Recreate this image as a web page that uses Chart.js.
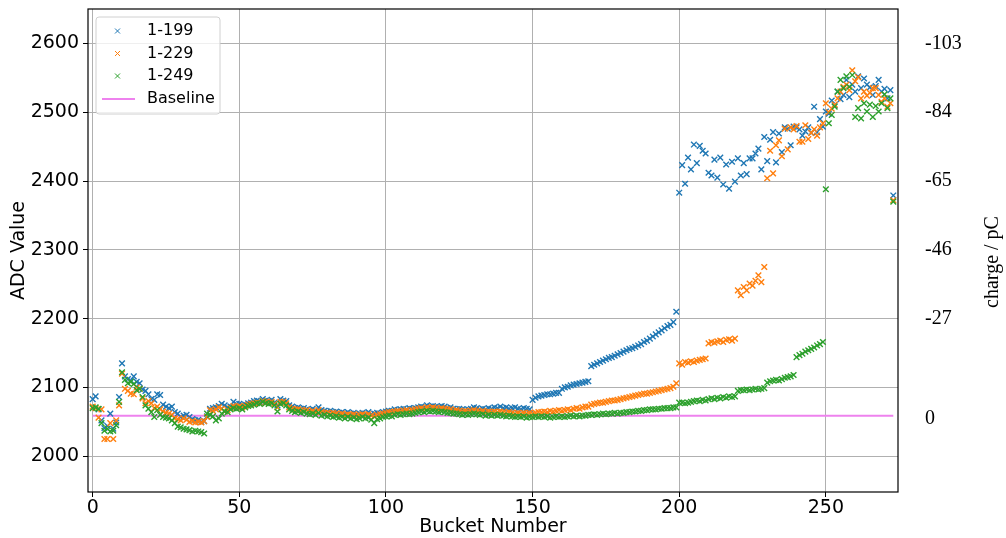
<!DOCTYPE html>
<html>
<head>
<meta charset="utf-8">
<script src="https://cdn.jsdelivr.net/npm/chart.js@4.4.0/dist/chart.umd.min.js"></script>
<style>
    body { margin: 0; background: #fff; }
    #wrap { width: 1006px; height: 538px; }
</style>
</head>
<body>
<div id="wrap"><canvas id="g_adc" width="1006" height="538"></canvas></div>
<script>
// ADC value per bucket, the bucket number is the index
const adc199 = [
    2083, 2087, 2068, 2052, 2041, 2044, 2062, 2040, 2049, 2086,
    2135, 2116, 2112, 2110, 2116, 2108, 2106, 2097, 2095, 2090,
    2083, 2082, 2090, 2089, 2075, 2072, 2070, 2072, 2064, 2062,
    2057, 2059, 2060, 2057, 2054, 2052, 2053, 2050, 2051, 2058,
    2069, 2070, 2071, 2073, 2076, 2074, 2071, 2072, 2079, 2076,
    2076, 2074, 2075, 2077, 2078, 2080, 2081, 2079, 2083, 2081,
    2080, 2082, 2078, 2074, 2083, 2081, 2080, 2074, 2072, 2070,
    2071, 2069, 2070, 2068, 2067, 2069, 2066, 2071, 2067, 2066,
    2065, 2066, 2064, 2065, 2063, 2064, 2062, 2064, 2062, 2063,
    2061, 2062, 2063, 2062, 2064, 2061, 2062, 2063, 2062, 2064,
    2065, 2066, 2066, 2068, 2067, 2068, 2069, 2068, 2070, 2069,
    2070, 2071, 2072, 2071, 2074, 2072, 2073, 2072, 2071, 2073,
    2072, 2070, 2071, 2069, 2068, 2069, 2068, 2067, 2068, 2069,
    2071, 2070, 2068, 2069, 2068, 2070, 2069, 2071, 2070, 2072,
    2070, 2071, 2069, 2070, 2071, 2069, 2068, 2070, 2069, 2068,
    2082, 2085, 2087, 2088, 2089, 2090, 2090, 2091, 2092, 2092,
    2098, 2100, 2101, 2103, 2104, 2105, 2106, 2107, 2108, 2109,
    2131, 2133, 2135, 2137, 2139, 2141, 2143, 2144, 2146, 2148,
    2150, 2152, 2154, 2156, 2157, 2159, 2161, 2163, 2166, 2168,
    2171, 2174, 2177, 2180, 2183, 2186, 2189, 2191, 2195, 2210,
    2383, 2423, 2396, 2434, 2417, 2453, 2426, 2451, 2444, 2440,
    2412, 2408, 2431, 2405, 2434, 2395, 2424, 2389, 2428, 2399,
    2433, 2408, 2426, 2410, 2433, 2433, 2440, 2447, 2417, 2464,
    2429, 2460, 2471, 2427, 2469, 2442, 2478, 2476, 2452, 2479,
    2478, 2475, 2466, 2472, 2478, 2470, 2508, 2471, 2490, 2479,
    2501, 2498, 2517, 2510, 2530, 2519, 2525, 2547, 2522, 2540,
    2530, 2552, 2535, 2549, 2540, 2536, 2525, 2538, 2547, 2530,
    2534, 2520, 2532, 2379
];

const adc229 = [
    2072, 2070, 2056, 2068, 2025, 2025, 2048, 2025, 2052, 2074,
    2120, 2098, 2095, 2091, 2090, 2100, 2098, 2084, 2077, 2080,
    2077, 2070, 2072, 2068, 2065, 2063, 2062, 2060, 2055, 2054,
    2052, 2055, 2053, 2050, 2051, 2049, 2050, 2049, 2051, 2057,
    2067, 2066, 2068, 2071, 2069, 2065, 2067, 2070, 2073, 2072,
    2073, 2071, 2073, 2075, 2076, 2077, 2078, 2077, 2080, 2079,
    2078, 2079, 2076, 2071, 2079, 2079, 2077, 2071, 2069, 2068,
    2068, 2067, 2066, 2067, 2065, 2066, 2064, 2067, 2064, 2063,
    2063, 2062, 2063, 2062, 2061, 2062, 2060, 2061, 2060, 2061,
    2059, 2060, 2061, 2060, 2061, 2059, 2058, 2060, 2061, 2062,
    2063, 2064, 2064, 2065, 2066, 2065, 2066, 2067, 2066, 2067,
    2068, 2069, 2070, 2069, 2071, 2070, 2071, 2070, 2069, 2070,
    2069, 2068, 2068, 2066, 2067, 2066, 2065, 2066, 2065, 2066,
    2067, 2066, 2065, 2066, 2064, 2065, 2064, 2065, 2064, 2065,
    2064, 2063, 2064, 2063, 2062, 2063, 2062, 2063, 2062, 2063,
    2062, 2063, 2064, 2064, 2065, 2064, 2066, 2065, 2066, 2067,
    2066, 2067, 2068, 2067, 2069, 2070, 2069, 2071, 2072, 2072,
    2075, 2076, 2077, 2078, 2078, 2079, 2080, 2081, 2081, 2082,
    2083, 2084, 2085, 2086, 2087, 2088, 2089, 2090, 2091, 2091,
    2092, 2093, 2094, 2095, 2096, 2097, 2098, 2099, 2101, 2106,
    2135, 2133, 2137, 2136, 2138, 2137, 2139, 2140, 2141, 2142,
    2164, 2166, 2165, 2167, 2168, 2166, 2169, 2170, 2168, 2171,
    2241, 2234, 2246, 2241, 2251, 2248, 2255, 2263, 2253, 2275,
    2404, 2444, 2411, 2452, 2459, 2436, 2476, 2446, 2478, 2475,
    2480, 2457, 2457, 2481, 2461, 2470, 2475, 2466, 2478, 2484,
    2513, 2500, 2505, 2511, 2520, 2530, 2537, 2540, 2532, 2561,
    2545, 2551, 2520, 2530, 2524, 2528, 2535, 2535, 2525, 2515,
    2520, 2508, 2513, 2372
];

const adc249 = [
    2070, 2071, 2069, 2048, 2037, 2040, 2036, 2037, 2045, 2079,
    2122, 2111, 2106, 2108, 2105, 2096, 2098, 2086, 2074, 2069,
    2064, 2057, 2067, 2060, 2057, 2056, 2055, 2052, 2048, 2043,
    2042, 2040, 2039, 2038, 2036, 2037, 2036, 2035, 2033, 2062,
    2060, 2058, 2052, 2055, 2062, 2065, 2064, 2068, 2070, 2069,
    2070, 2068, 2071, 2073, 2074, 2075, 2077, 2076, 2079, 2077,
    2076, 2077, 2074, 2065, 2076, 2077, 2074, 2068, 2066, 2064,
    2065, 2063, 2064, 2062, 2061, 2062, 2060, 2063, 2059, 2060,
    2058, 2059, 2057, 2058, 2056, 2057, 2055, 2057, 2055, 2056,
    2054, 2055, 2057, 2055, 2056, 2053, 2048, 2054, 2055, 2057,
    2058, 2059, 2058, 2060, 2061, 2060, 2061, 2062, 2061, 2062,
    2063, 2064, 2065, 2064, 2066, 2065, 2066, 2065, 2064, 2065,
    2064, 2063, 2063, 2062, 2062, 2061, 2060, 2061, 2060, 2061,
    2062, 2061, 2060, 2061, 2059, 2060, 2059, 2060, 2059, 2060,
    2059, 2058, 2059, 2058, 2057, 2058, 2057, 2058, 2056, 2057,
    2057, 2058, 2057, 2058, 2057, 2058, 2056, 2057, 2058, 2057,
    2058, 2057, 2058, 2059, 2058, 2059, 2058, 2059, 2059, 2060,
    2060, 2061, 2060, 2061, 2062, 2061, 2062, 2062, 2063, 2062,
    2063, 2063, 2064, 2064, 2065, 2065, 2066, 2066, 2067, 2067,
    2068, 2068, 2068, 2069, 2069, 2070, 2070, 2070, 2071, 2071,
    2078, 2078, 2077, 2078, 2079, 2080, 2081, 2080, 2082, 2081,
    2083, 2084, 2083, 2085, 2084, 2086, 2085, 2087, 2086, 2087,
    2095, 2096, 2096, 2097, 2096, 2097, 2098, 2097, 2098, 2099,
    2107, 2109, 2110, 2111, 2110, 2112, 2114, 2115, 2116, 2118,
    2144, 2147, 2149, 2152, 2154, 2156, 2158, 2161, 2163, 2166,
    2388, 2484, 2496, 2508, 2530, 2547, 2535, 2552, 2537, 2554,
    2493, 2506, 2491, 2513, 2501, 2511, 2493, 2509, 2501, 2513,
    2526, 2506, 2520, 2370
];

const baselineLevel = 2059;
const baselineRange = [0, 273];

const seriesNames = ['1-199', '1-229', '1-249'];
const seriesColors = ['#1f77b4', '#ff7f0e', '#2ca02c'];
const baselineColor = 'violet';

const xTicks = [0, 50, 100, 150, 200, 250];
const yTicks = [2000, 2100, 2200, 2300, 2400, 2500, 2600];
// right hand axis: charge for some ADC levels
const chargeTicks = [2054, 2200, 2300, 2400, 2500, 2600];
const chargeLabels = ['0', '-27', '-46', '-65', '-84', '-103'];


function toPoints(values) {
    let result = [];
    for (let i = 0; i < values.length; i++) {
        result.push({ x: i, y: values[i] });
    }
    return result;
}

// no extra room around the plot for the tick labels
function fixSize(scale, w, h) {
    if (w) scale.width = w;
    if (h) scale.height = h;
    scale.paddingTop = 0;
    scale.paddingBottom = 0;
    scale.paddingLeft = 0;
    scale.paddingRight = 0;
}

//Cadre noir autour de la zone du graphe
const framePlugin = {
    id: 'frame',
    afterDatasetsDraw(chart) {
        const a = chart.chartArea;
        const ctx = chart.ctx;
        ctx.save();
        ctx.strokeStyle = '#000';
        ctx.lineWidth = 1.2;
        ctx.strokeRect(a.left, a.top, a.right - a.left, a.bottom - a.top);
        ctx.restore();
    }
};

//Legende en haut a gauche + titre de l'axe de droite
const legendPlugin = {
    id: 'boxLegend',
    afterDraw(chart) {
        const ctx = chart.ctx;
        ctx.save();

        // box
        let x = 96, y = 17, w = 124, h = 97, r = 3;
        ctx.beginPath();
        ctx.moveTo(x + r, y);
        ctx.arcTo(x + w, y, x + w, y + h, r);
        ctx.arcTo(x + w, y + h, x, y + h, r);
        ctx.arcTo(x, y + h, x, y, r);
        ctx.arcTo(x, y, x + w, y, r);
        ctx.closePath();
        ctx.fillStyle = 'rgba(255,255,255,0.8)';
        ctx.fill();
        ctx.strokeStyle = '#d0d0d0';
        ctx.lineWidth = 1;
        ctx.stroke();

        ctx.font = '16px "DejaVu Sans"';
        ctx.textBaseline = 'middle';
        ctx.textAlign = 'left';
        const rows = [31, 53.5, 76, 99];
        for (let i = 0; i < seriesNames.length; i++) {
            const cy = rows[i];
            ctx.strokeStyle = seriesColors[i];
            ctx.lineWidth = 1;
            ctx.beginPath();
            ctx.moveTo(115, cy - 2.5); ctx.lineTo(120, cy + 2.5);
            ctx.moveTo(115, cy + 2.5); ctx.lineTo(120, cy - 2.5);
            ctx.stroke();
            ctx.fillStyle = '#000';
            ctx.fillText(seriesNames[i], 147, cy);
        }
        ctx.strokeStyle = baselineColor;
        ctx.lineWidth = 2;
        ctx.beginPath();
        ctx.moveTo(102, rows[3]); ctx.lineTo(135, rows[3]);
        ctx.stroke();
        ctx.fillStyle = '#000';
        ctx.fillText('Baseline', 147, rows[3]);

        // right axis title, read from bottom to top
        ctx.translate(993, 262);
        ctx.rotate(-Math.PI / 2);
        ctx.font = '20px "Liberation Serif"';
        ctx.textAlign = 'center';
        ctx.fillText('charge / pC', 0, 0);
        ctx.restore();
    }
};


function drawChart() {
    const context = document.getElementById('g_adc').getContext('2d');

    let datasets = [];
    const series = [adc199, adc229, adc249];
    for (let i = 0; i < series.length; i++) {
        datasets.push({
            label: seriesNames[i],
            data: toPoints(series[i]),
            pointStyle: 'crossRot',
            pointRadius: 4,
            pointBorderWidth: 1.4,
            borderColor: seriesColors[i],
            backgroundColor: seriesColors[i],
            showLine: false,
            order: 3 - i
        });
    }
    datasets.push({
        label: 'Baseline',
        data: [{ x: baselineRange[0], y: baselineLevel }, { x: baselineRange[1], y: baselineLevel }],
        showLine: true,
        borderColor: baselineColor,
        borderWidth: 2,
        pointRadius: 0,
        order: 4
    });

    const tickFont = { family: 'DejaVu Sans', size: 19 };

    let options = {
        responsive: false,
        animation: false,
        devicePixelRatio: 1,
        layout: { padding: { top: 9, left: 0, right: 0, bottom: 0 }, autoPadding: false },
        plugins: {
            legend: { display: false },
            tooltip: { enabled: false }
        },
        scales: {
            x: {
                type: 'linear',
                min: -1.6,
                max: 274.6,
                afterBuildTicks: s => { s.ticks = xTicks.map(v => ({ value: v })); },
                afterFit: s => fixSize(s, 0, 46),
                grid: { color: '#b0b0b0', lineWidth: 1, tickLength: 5, tickColor: '#000' },
                border: { display: false },
                ticks: { font: tickFont, color: '#000', padding: 0, maxRotation: 0, callback: v => String(v) },
                title: { display: true, text: 'Bucket Number', font: tickFont, color: '#000', padding: { top: 0, bottom: 0 } }
            },
            y: {
                type: 'linear',
                position: 'left',
                min: 1948,
                max: 2650,
                afterBuildTicks: s => { s.ticks = yTicks.map(v => ({ value: v })); },
                afterFit: s => fixSize(s, 88, 0),
                grid: { color: '#b0b0b0', lineWidth: 1, tickLength: 5, tickColor: '#000' },
                border: { display: false },
                ticks: { font: tickFont, color: '#000', padding: 4, callback: v => String(v) },
                title: { display: true, text: 'ADC Value', font: tickFont, color: '#000', padding: { top: 8, bottom: 0 } }
            },
            charge: {
                type: 'linear',
                position: 'right',
                min: 1948,
                max: 2650,
                afterBuildTicks: s => { s.ticks = chargeTicks.map(v => ({ value: v })); },
                afterFit: s => fixSize(s, 108, 0),
                grid: { display: false, drawTicks: false },
                border: { display: false },
                ticks: {
                    font: { family: 'Liberation Serif', size: 20 },
                    color: '#000',
                    padding: 27,
                    callback: v => chargeLabels[chargeTicks.indexOf(v)]
                }
            }
        }
    };

    let config = {
        type: 'scatter',
        data: { datasets: datasets },
        options: options,
        plugins: [framePlugin, legendPlugin]
    };

    let gAdc = new Chart(context, config);
}

window.addEventListener('load', () => {
    drawChart();
});
</script>
</body>
</html>
